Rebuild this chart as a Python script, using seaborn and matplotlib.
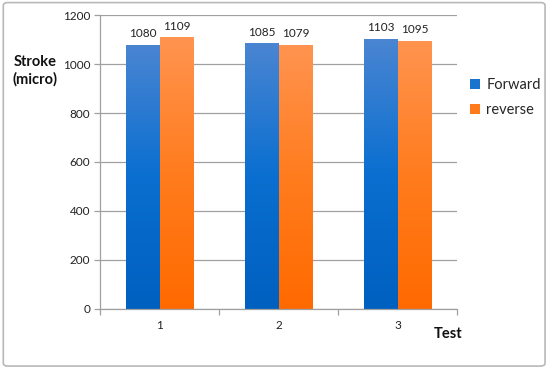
import numpy as np
import pandas as pd
import matplotlib
matplotlib.use("Agg")
import matplotlib.pyplot as plt
import seaborn as sns
from matplotlib.colors import LinearSegmentedColormap
from matplotlib.patches import FancyBboxPatch

tests = ["1", "2", "3"]
forward = [1080, 1085, 1103]
reverse = [1109, 1079, 1095]
series_names = ["Forward", "reverse"]
yticks = [0, 200, 400, 600, 800, 1000, 1200]

df = pd.DataFrame({
    "Test": tests * 2,
    "Stroke": forward + reverse,
    "Series": [series_names[0]] * 3 + [series_names[1]] * 3,
})

sns.set_theme(style="white")
plt.rcParams["font.family"] = ["Lato", "DejaVu Sans"]

fig = plt.figure(figsize=(5.5, 3.69), dpi=100)
ax = fig.add_axes([0.182, 0.163, 0.649, 0.796])

palette = {"Forward": "#1a73cc", "reverse": "#ff7a1a"}
sns.barplot(data=df, x="Test", y="Stroke", hue="Series", palette=palette,
            width=0.57, ax=ax, saturation=1, legend=True, edgecolor="none")

grads = {
    "Forward": [(0.0, "#0060c0"), (0.5, "#0a6fd0"), (1.0, "#4a85d2")],
    "reverse": [(0.0, "#ff6a00"), (0.5, "#ff7c1e"), (1.0, "#ff9450")],
}
for cont, name in zip(ax.containers, series_names):
    cmap = LinearSegmentedColormap.from_list(name, grads[name])
    grad = np.linspace(0, 1, 256).reshape(-1, 1)
    for bar in cont:
        x0, y0 = bar.get_x(), bar.get_y()
        w, h = bar.get_width(), bar.get_height()
        im = ax.imshow(grad, cmap=cmap, origin="lower", aspect="auto",
                       extent=[x0, x0 + w, y0, y0 + h], zorder=bar.get_zorder() + 0.1)
        im.set_clip_path(bar)
    ax.bar_label(cont, fmt="%d", padding=4, fontsize=8.5, color="#222222")

ax.set_xlim(-0.5, 2.5)
ax.set_ylim(0, 1200)
ax.set_yticks(yticks)
ax.set_yticklabels([str(v) for v in yticks], fontsize=8.5, color="#222222")
ax.set_xticklabels(tests, fontsize=8.5, color="#222222")
ax.yaxis.grid(True, color="#a0a0a0", linewidth=0.9)
ax.set_axisbelow(True)
for s in ["top", "right"]:
    ax.spines[s].set_visible(False)
for s in ["left", "bottom"]:
    ax.spines[s].set_color("#a0a0a0")
    ax.spines[s].set_linewidth(0.9)
ax.tick_params(axis="y", length=4, color="#a0a0a0", width=0.9, left=True, pad=3)
ax.tick_params(axis="x", length=0, pad=8)
ax.set_xticks([-0.5, 0.5, 1.5, 2.5], minor=True)
ax.tick_params(axis="x", which="minor", length=4, color="#a0a0a0", width=0.9, bottom=True)

ax.set_xlabel("")
ax.set_ylabel("")
fig.text(0.064, 0.808, "Stroke\n(micro)", fontsize=10.5, fontweight="bold",
         ha="center", va="center", linespacing=1.3, color="#111111")
fig.text(0.815, 0.095, "Test", fontsize=10.5, fontweight="bold",
         ha="center", va="center", color="#111111")

leg = ax.legend(loc="center left", bbox_to_anchor=(1.0, 0.72), frameon=False,
                fontsize=10.5, handlelength=0.7, handleheight=0.7, handletextpad=0.4,
                labelspacing=0.75)

border = FancyBboxPatch((0.006, 0.008), 0.985, 0.985, boxstyle="round,pad=0,rounding_size=0.008",
                        transform=fig.transFigure, facecolor="none", edgecolor="#b8b8b8",
                        linewidth=1.2, zorder=-1)
fig.patches.append(border)

fig.savefig("out.png", dpi=100)
